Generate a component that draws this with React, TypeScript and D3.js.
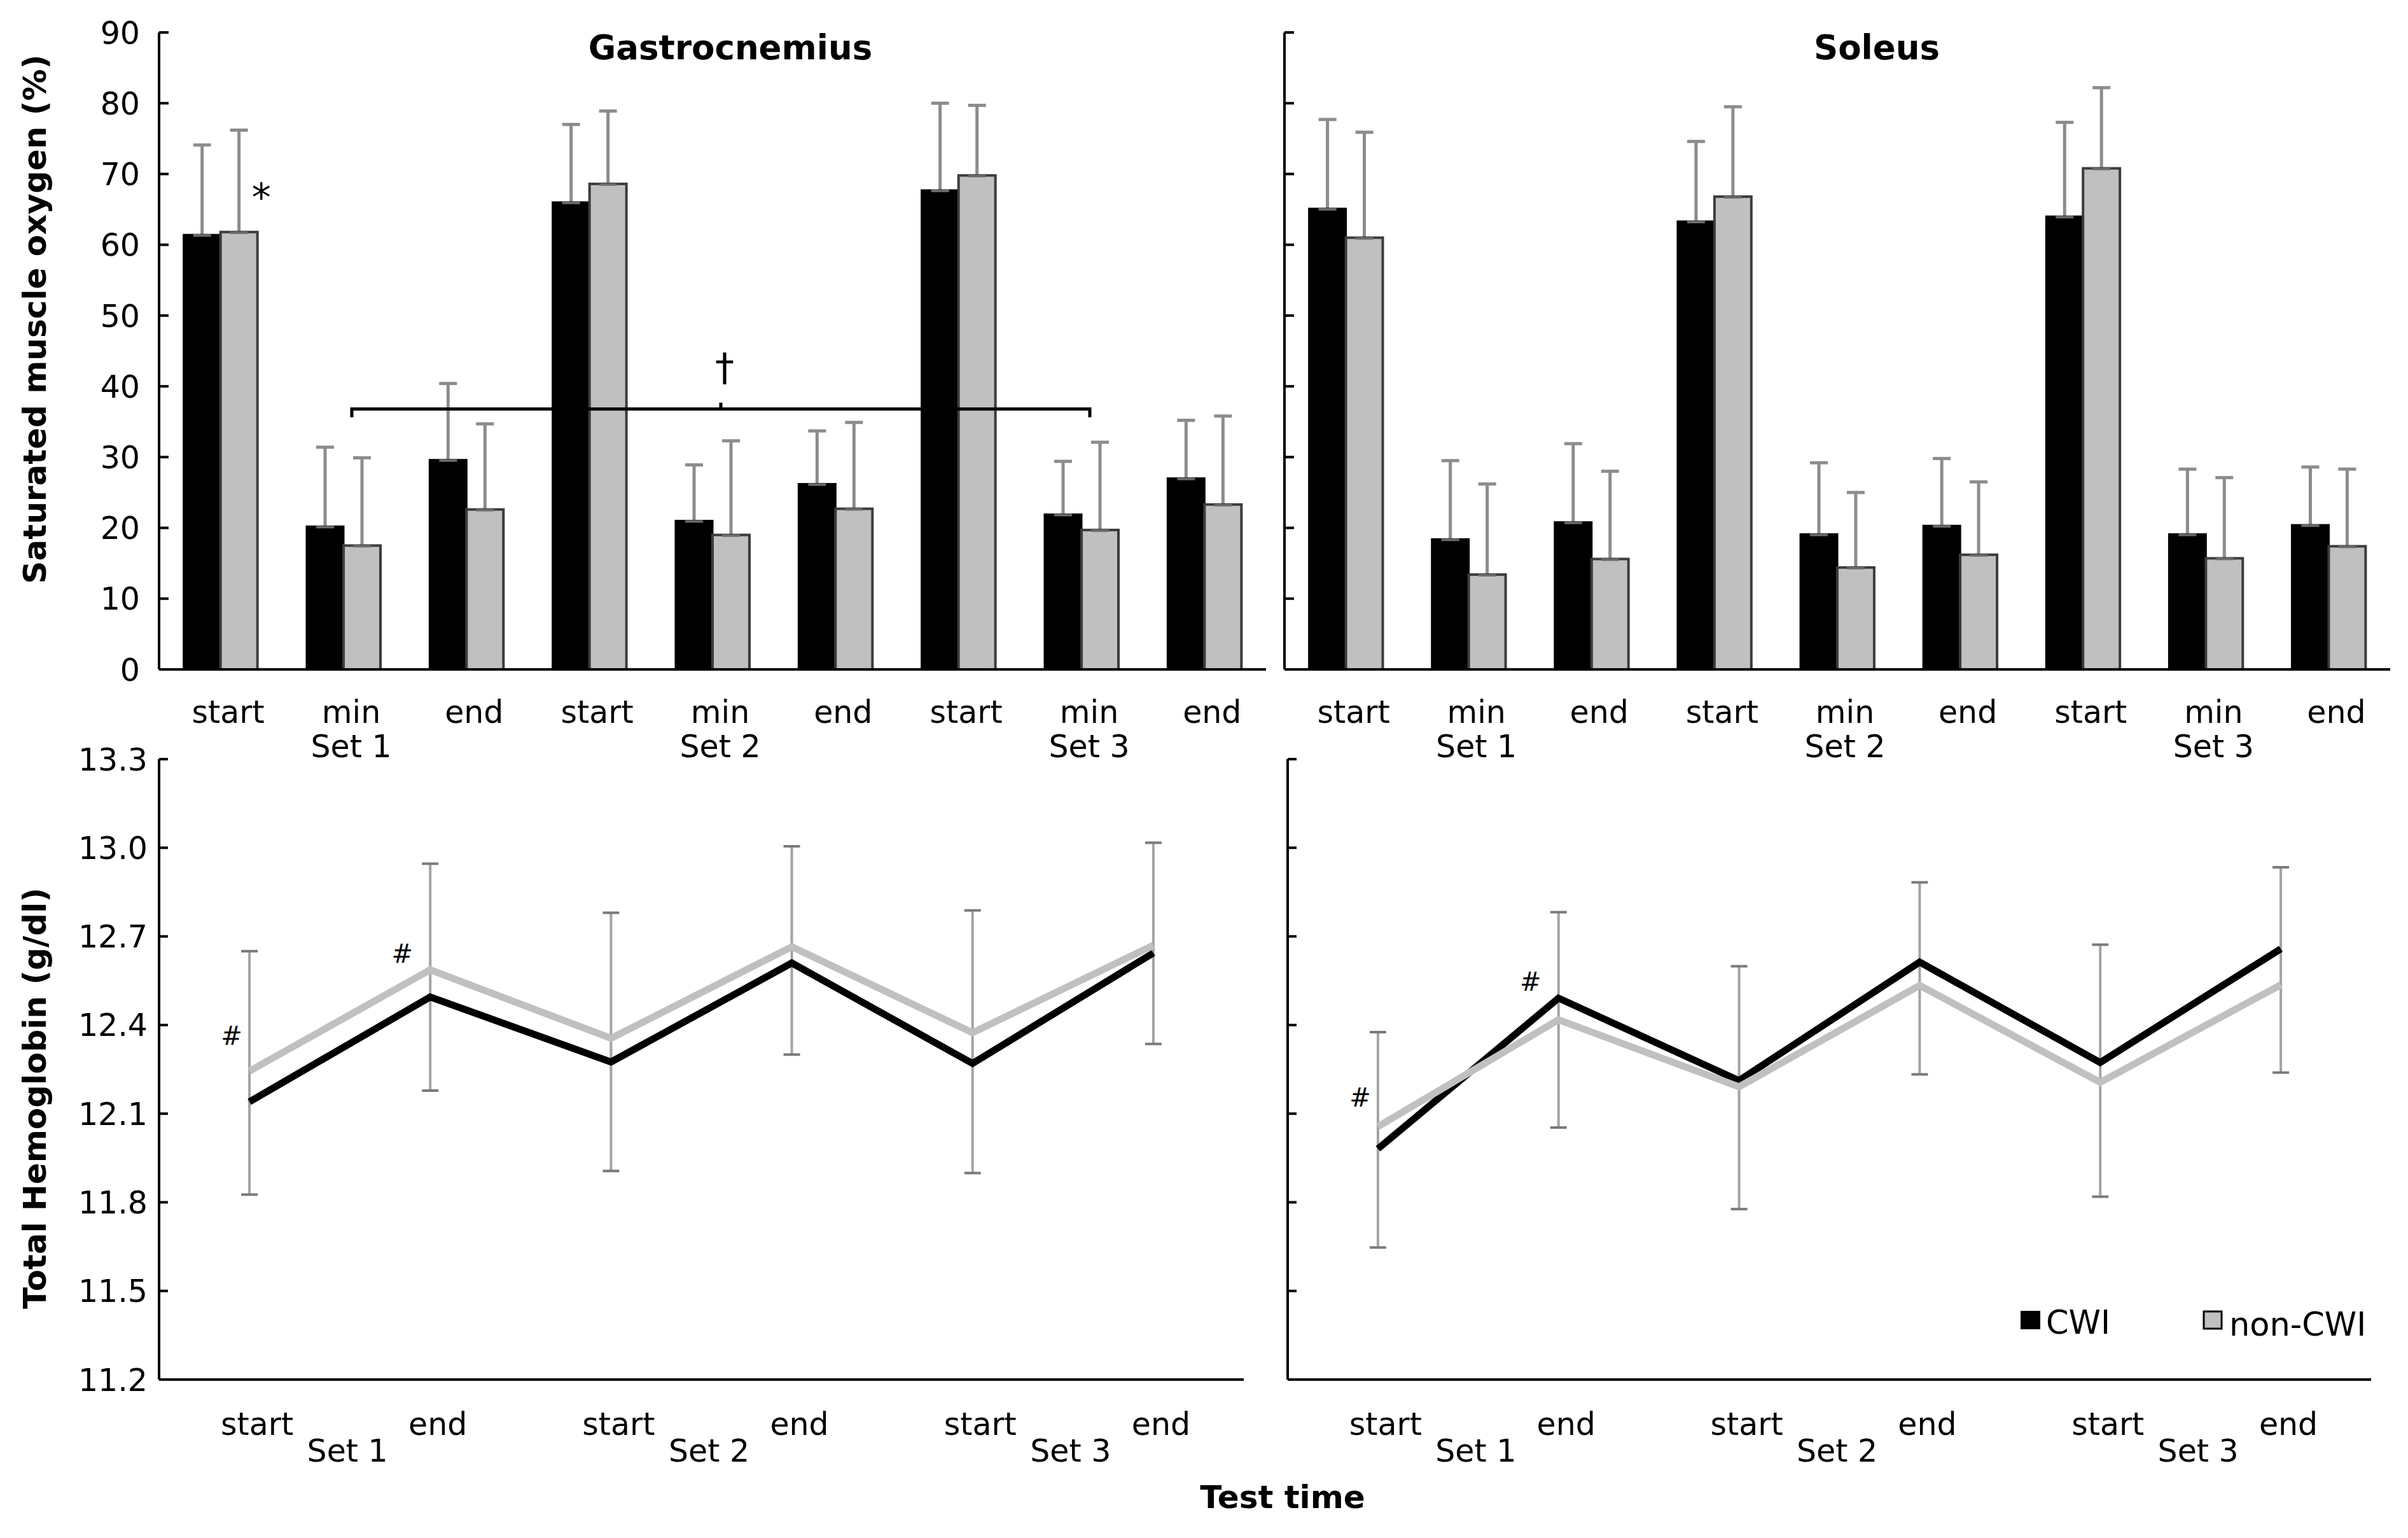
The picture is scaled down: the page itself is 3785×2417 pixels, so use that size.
import React from 'react';
import * as d3 from 'd3';

// ---- data ----
const timePoints = ['start', 'min', 'end', 'start', 'min', 'end', 'start', 'min', 'end'];
const setNames = ['Set 1', 'Set 2', 'Set 3'];
const seriesNames = ['CWI', 'non-CWI'];

const gastroCwi = [61.4, 20.2, 29.6, 66.0, 21.0, 26.2, 67.7, 21.9, 27.0];
const gastroCwiUpper = [74.1, 31.4, 40.4, 77.0, 28.9, 33.7, 80.0, 29.4, 35.2];
const gastroNon = [61.8, 17.5, 22.6, 68.6, 19.0, 22.7, 69.8, 19.7, 23.3];
const gastroNonUpper = [76.2, 29.9, 34.7, 78.9, 32.3, 34.9, 79.7, 32.1, 35.8];

const soleusCwi = [65.1, 18.4, 20.8, 63.3, 19.1, 20.3, 64.0, 19.1, 20.4];
const soleusCwiUpper = [77.7, 29.5, 31.9, 74.6, 29.2, 29.8, 77.3, 28.3, 28.6];
const soleusNon = [61.0, 13.4, 15.6, 66.8, 14.4, 16.2, 70.8, 15.7, 17.4];
const soleusNonUpper = [75.9, 26.2, 28.0, 79.5, 25.0, 26.5, 82.2, 27.1, 28.3];

const hbTimes = ['start', 'end', 'start', 'end', 'start', 'end'];
const gastroHbCwi = [12.14, 12.495, 12.275, 12.61, 12.27, 12.644];
const gastroHbNon = [12.244, 12.587, 12.355, 12.665, 12.374, 12.67];
const gastroHbErrHigh = [12.65, 12.946, 12.78, 13.005, 12.788, 13.017];
const gastroHbErrLow = [11.826, 12.178, 11.906, 12.3, 11.899, 12.336];

const soleusHbCwi = [11.981, 12.491, 12.212, 12.613, 12.273, 12.658];
const soleusHbNon = [12.056, 12.418, 12.191, 12.534, 12.206, 12.536];
const soleusHbErrHigh = [12.376, 12.782, 12.599, 12.883, 12.672, 12.934];
const soleusHbErrLow = [11.647, 12.053, 11.777, 12.233, 11.819, 12.239];

const satTicks = [0, 10, 20, 30, 40, 50, 60, 70, 80, 90];
const hbTicks = [11.2, 11.5, 11.8, 12.1, 12.4, 12.7, 13.0, 13.3];

// "#" marks: index of time point and the value where they sit
const gastroHashes = [{ i: 0, v: 12.365 }, { i: 1, v: 12.641 }];
const soleusHashes = [{ i: 0, v: 12.156 }, { i: 1, v: 12.548 }];

// ---- styling ----
const W = 3785;
const H = 2417;
const FONT = "'DejaVu Sans', 'Liberation Sans', sans-serif";
const BLACK = '#000000';
const GREY = '#c0c0c0';
const ERR = '#8c8c8c';

const topY = d3.scaleLinear().domain([0, 90]).range([1052, 51]);
const botY = d3.scaleLinear().domain([11.2, 13.3]).range([2168, 1193]);

interface BarPanelProps {
  x0: number;
  x1: number;
  title: string;
  titleX: number;
  cwi: number[];
  cwiUpper: number[];
  non: number[];
  nonUpper: number[];
  showTickLabels: boolean;
}

const BarPanel: React.FC<BarPanelProps> = ({ x0, x1, title, titleX, cwi, cwiUpper, non, nonUpper, showTickLabels }) => {
  const x = d3.scaleBand<number>().domain(d3.range(timePoints.length)).range([x0, x1])
    .paddingInner(0.4).paddingOuter(0.2);
  const inner = d3.scaleBand<string>().domain(seriesNames).range([0, x.bandwidth()]);
  const bw = inner.bandwidth();
  const series = [
    { name: 'CWI', vals: cwi, upper: cwiUpper, fill: BLACK, stroke: '#000', sw: 3 },
    { name: 'non-CWI', vals: non, upper: nonUpper, fill: GREY, stroke: '#3c3c3c', sw: 4 },
  ];
  const labelShift = 12;
  return (
    <g>
      {series.map(s => (
        <g key={s.name}>
          {s.vals.map((v, i) => {
            const cx = x(i)! + inner(s.name)! + bw / 2;
            return (
              <g key={i}>
                <line x1={cx} x2={cx} y1={topY(v)} y2={topY(s.upper[i])} stroke={ERR} strokeWidth={5} />
                <line x1={cx - 14} x2={cx + 14} y1={topY(s.upper[i])} y2={topY(s.upper[i])} stroke={ERR} strokeWidth={5} />
              </g>
            );
          })}
          {s.vals.map((v, i) => (
            <rect key={'b' + i} x={x(i)! + inner(s.name)!} width={bw} y={topY(v)} height={topY(0) - topY(v)}
              fill={s.fill} stroke={s.stroke} strokeWidth={s.sw} />
          ))}
          {s.vals.map((v, i) => {
            const cx = x(i)! + inner(s.name)! + bw / 2;
            return <line key={'c' + i} x1={cx - 14} x2={cx + 14} y1={topY(v) + 1} y2={topY(v) + 1} stroke="#6a6a6a" strokeWidth={4} />;
          })}
        </g>
      ))}
      {/* axes */}
      <line x1={x0} x2={x0} y1={topY(90)} y2={topY(0)} stroke="#000" strokeWidth={4} />
      <line x1={x0} x2={x1} y1={topY(0)} y2={topY(0)} stroke="#000" strokeWidth={4} />
      {satTicks.map(t => (
        <g key={t}>
          <line x1={x0} x2={x0 + 15} y1={topY(t)} y2={topY(t)} stroke="#000" strokeWidth={4} />
          {showTickLabels && (
            <text x={x0 - 30} y={topY(t)} dy="0.36em" textAnchor="end" fontSize={49} fontFamily={FONT}>{t}</text>
          )}
        </g>
      ))}
      {timePoints.map((t, i) => (
        <text key={i} x={x(i)! + x.bandwidth() / 2 + labelShift} y={1136} textAnchor="middle" fontSize={49} fontFamily={FONT}>{t}</text>
      ))}
      {setNames.map((s, k) => (
        <text key={s} x={x(k * 3 + 1)! + x.bandwidth() / 2 + labelShift} y={1190} textAnchor="middle" fontSize={49} fontFamily={FONT}>{s}</text>
      ))}
      <text x={titleX} y={93} textAnchor="middle" fontSize={53} fontWeight="bold" fontFamily={FONT}>{title}</text>
    </g>
  );
};

interface LinePanelProps {
  x0: number;
  x1: number;
  cwi: number[];
  non: number[];
  errHigh: number[];
  errLow: number[];
  hashes: { i: number; v: number }[];
  showTickLabels: boolean;
  legend?: boolean;
}

const LinePanel: React.FC<LinePanelProps> = ({ x0, x1, cwi, non, errHigh, errLow, hashes, showTickLabels, legend }) => {
  const x = d3.scalePoint<number>().domain(d3.range(hbTimes.length)).range([x0, x1]).padding(0.5);
  const line = d3.line<number>().x((_, i) => x(i)!).y(d => botY(d));
  return (
    <g>
      {errHigh.map((hi, i) => {
        const cx = x(i)!;
        const lo = errLow[i];
        return (
          <g key={i}>
            <line x1={cx} x2={cx} y1={botY(hi)} y2={botY(lo)} stroke="#a3a3a3" strokeWidth={4} />
            <line x1={cx - 13} x2={cx + 13} y1={botY(hi)} y2={botY(hi)} stroke="#7a7a7a" strokeWidth={4} />
            <line x1={cx - 13} x2={cx + 13} y1={botY(lo)} y2={botY(lo)} stroke="#7a7a7a" strokeWidth={4} />
          </g>
        );
      })}
      <path d={line(cwi)!} fill="none" stroke={BLACK} strokeWidth={11} strokeLinejoin="miter" />
      <path d={line(non)!} fill="none" stroke={GREY} strokeWidth={11} strokeLinejoin="miter" />
      {hashes.map((h, k) => (
        <text key={k} x={x(h.i)! - (h.i === 0 ? 28 : 44)} y={botY(h.v)} dy="0.36em" textAnchor="middle" fontSize={40} fontFamily={FONT}>#</text>
      ))}
      <line x1={x0} x2={x0} y1={botY(13.3)} y2={botY(11.2)} stroke="#000" strokeWidth={4} />
      <line x1={x0} x2={x1} y1={botY(11.2)} y2={botY(11.2)} stroke="#000" strokeWidth={4} />
      {hbTicks.map(t => (
        <g key={t}>
          <line x1={x0} x2={x0 + 14} y1={botY(t)} y2={botY(t)} stroke="#000" strokeWidth={4} />
          {showTickLabels && (
            <text x={x0 - 18} y={botY(t)} dy="0.36em" textAnchor="end" fontSize={49} fontFamily={FONT}>{t.toFixed(1)}</text>
          )}
        </g>
      ))}
      {hbTimes.map((t, i) => (
        <text key={i} x={x(i)! + 12} y={2255} textAnchor="middle" fontSize={49} fontFamily={FONT}>{t}</text>
      ))}
      {setNames.map((s, k) => (
        <text key={s} x={(x(k * 2)! + x(k * 2 + 1)!) / 2 + 12} y={2297} textAnchor="middle" fontSize={49} fontFamily={FONT}>{s}</text>
      ))}
      {legend && (
        <g fontFamily={FONT} fontSize={51}>
          <rect x={3176} y={2060} width={31} height={29} fill={BLACK} />
          <text x={3216} y={2096}>{seriesNames[0]}</text>
          <rect x={3464} y={2061} width={28} height={27} fill={GREY} stroke="#000" strokeWidth={3} />
          <text x={3504} y={2099}>{seriesNames[1]}</text>
        </g>
      )}
    </g>
  );
};

const App: React.FC = () => {
  // significance bracket between min of Set 1 and min of Set 3 (gastrocnemius)
  const gx = d3.scaleBand<number>().domain(d3.range(timePoints.length)).range([250, 1990])
    .paddingInner(0.4).paddingOuter(0.2);
  const bx1 = gx(1)! + gx.bandwidth() / 2 + 13;
  const bx2 = gx(7)! + gx.bandwidth() / 2 + 13;
  const by = topY(36.8);
  const bmid = (bx1 + bx2) / 2;
  const starX = gx(0)! + gx.bandwidth() + 6;

  return (
    <div style={{ position: 'absolute', left: 0, top: 0, width: W, height: H, background: '#fff' }}>
      <svg width={W} height={H} viewBox={`0 0 ${W} ${H}`} style={{ display: 'block' }}>
        <rect width={W} height={H} fill="#fff" />
        <BarPanel x0={250} x1={1990} title="Gastrocnemius" titleX={1148} cwi={gastroCwi} cwiUpper={gastroCwiUpper}
          non={gastroNon} nonUpper={gastroNonUpper} showTickLabels />
        <BarPanel x0={2019} x1={3757} title="Soleus" titleX={2950} cwi={soleusCwi} cwiUpper={soleusCwiUpper}
          non={soleusNon} nonUpper={soleusNonUpper} showTickLabels={false} />

        <path d={`M${bx1},${by + 13}V${by}H${bx2}V${by + 13}M${bmid},${by}V${by - 10}`}
          fill="none" stroke="#000" strokeWidth={5} />
        <text x={bmid + 6} y={by - 45} textAnchor="middle" fontSize={60} fontFamily={FONT}>†</text>
        <text x={starX} y={topY(67.8)} dy="0.55em" textAnchor="middle" fontSize={60} fontFamily={FONT}>*</text>

        <LinePanel x0={250} x1={1955} cwi={gastroHbCwi} non={gastroHbNon} errHigh={gastroHbErrHigh}
          errLow={gastroHbErrLow} hashes={gastroHashes} showTickLabels />
        <LinePanel x0={2024} x1={3727} cwi={soleusHbCwi} non={soleusHbNon} errHigh={soleusHbErrHigh}
          errLow={soleusHbErrLow} hashes={soleusHashes} showTickLabels={false} legend />

        <text transform={`translate(72, ${(topY(0) + topY(90)) / 2 - 50}) rotate(-90)`} textAnchor="middle"
          fontSize={50} fontWeight="bold" fontFamily={FONT}>Saturated muscle oxygen (%)</text>
        <text transform={`translate(72, 1726) rotate(-90)`} textAnchor="middle"
          fontSize={50} fontWeight="bold" fontFamily={FONT}>Total Hemoglobin (g/dl)</text>
        <text x={2016} y={2370} textAnchor="middle" fontSize={50} fontWeight="bold" fontFamily={FONT}>Test time</text>
      </svg>
    </div>
  );
};

export default App;
